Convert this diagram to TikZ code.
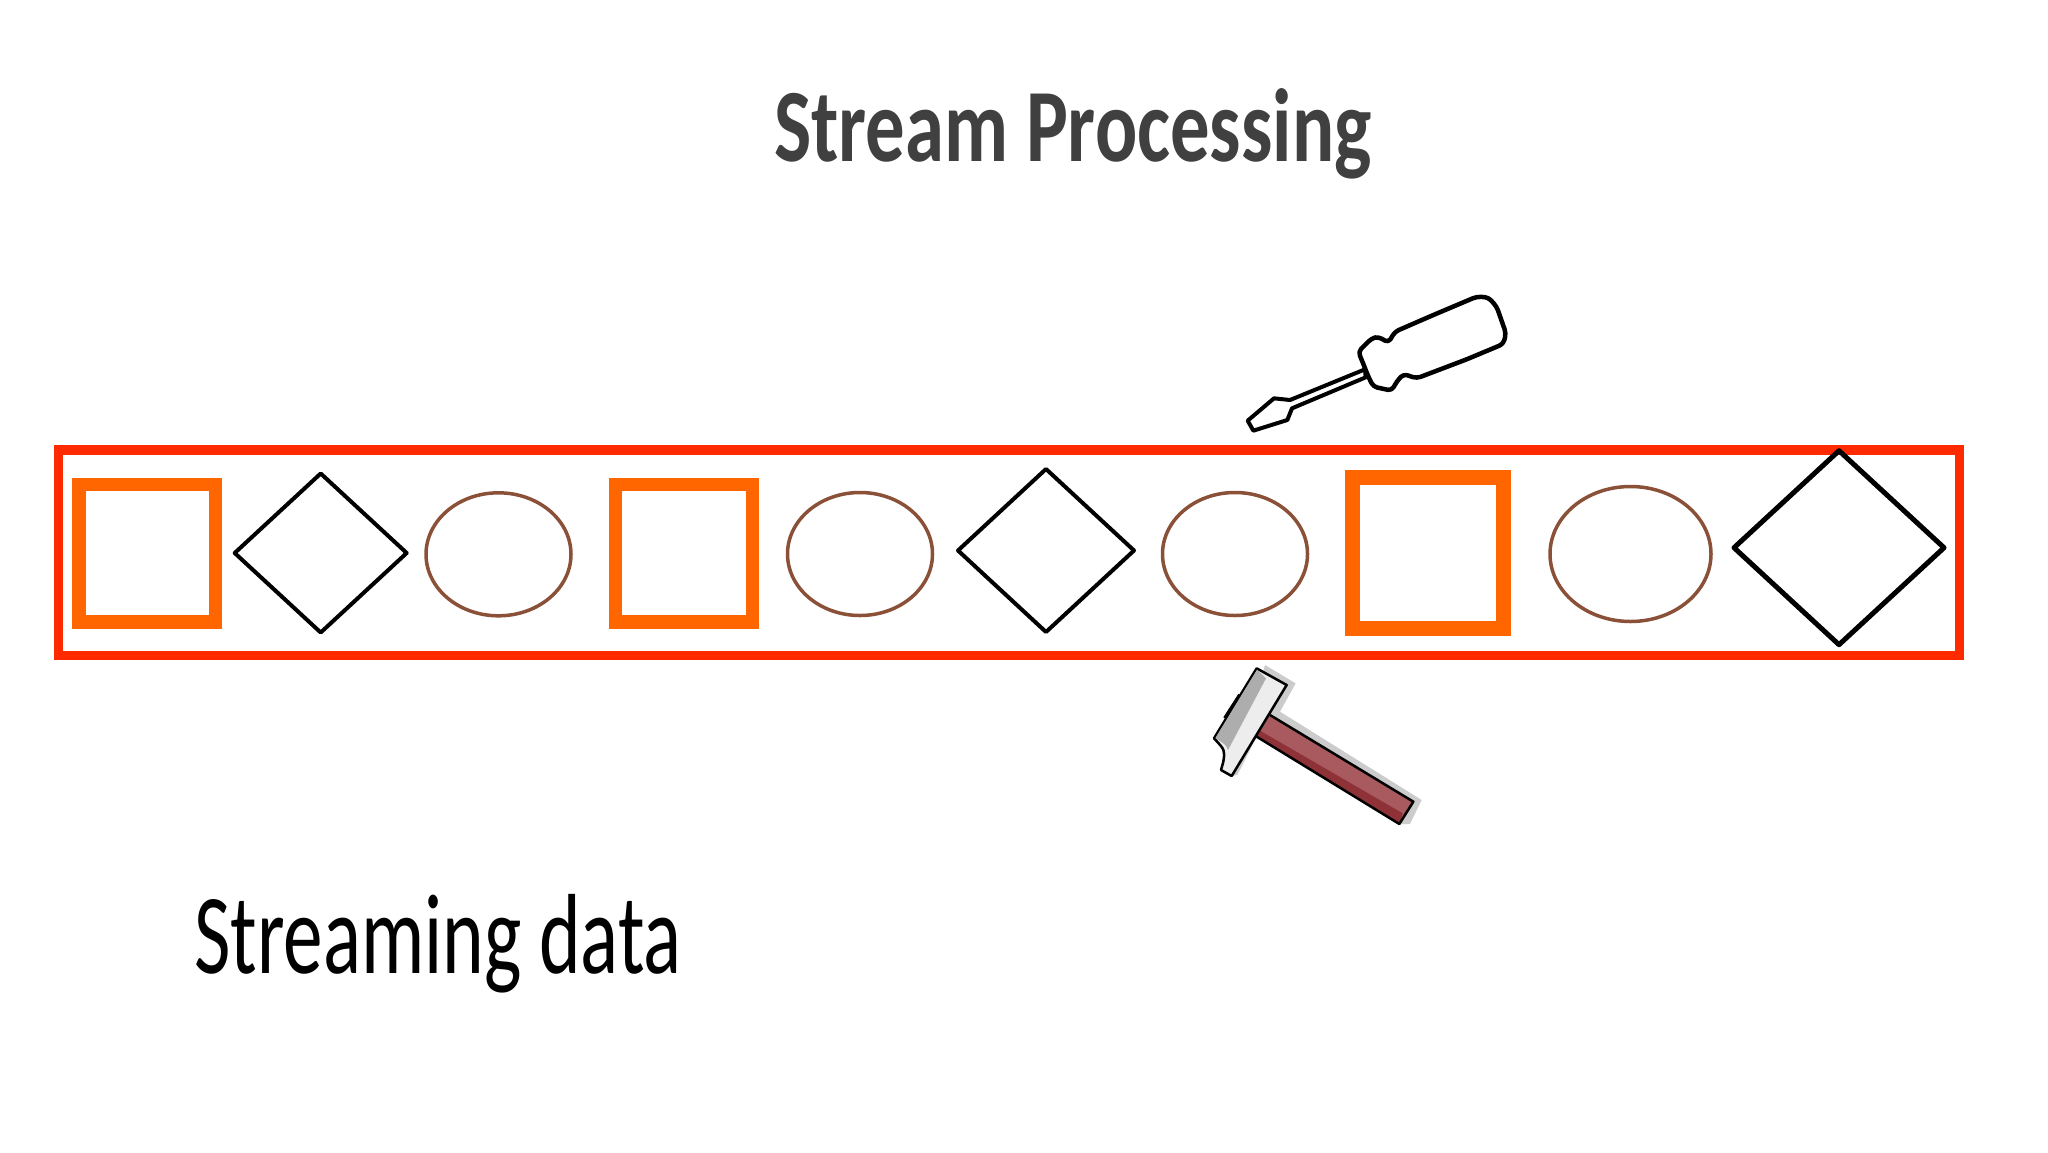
\documentclass[tikz,border=0pt]{standalone}
\usepackage{fontspec}
\usepackage{tikz}
\usetikzlibrary{shapes.geometric}
\newfontfamily\titlefont[FakeStretch=0.757]{Carlito}
\newfontfamily\notefont[FakeStretch=0.695]{Carlito}
\definecolor{framered}{HTML}{FF2A00}
\definecolor{boxorange}{HTML}{FF6600}
\definecolor{blobbrown}{HTML}{8A5038}
\definecolor{titlegray}{HTML}{404040}
\definecolor{haftred}{HTML}{A85A5E}
\definecolor{haftdark}{HTML}{8E3238}
\tikzset{
    boxitem/.style={rectangle, draw=boxorange, inner sep=0pt, outer sep=0pt},
    rhombitem/.style={diamond, draw=black, inner sep=0pt, outer sep=0pt, line join=round},
    blobitem/.style={ellipse, draw=blobbrown, line width=3.5pt, inner sep=0pt, outer sep=0pt},
}

\begin{document}
\begin{tikzpicture}[x=1pt, y=-1pt]
    \useasboundingbox (0, 0) rectangle (2048, 1152);

    \node[anchor=base, text=titlegray, font=\titlefont\bfseries\fontsize{104}{110}\selectfont] (title) at (1073, 161) {Stream Processing};
    \node[anchor=base, font=\notefont\fontsize{114}{120}\selectfont] (note) at (438, 973) {Streaming data};

    \node[rectangle, draw=framered, line width=9.5pt, minimum width=1901pt, minimum height=205.5pt, inner sep=0pt] (stream) at (1009, 552.8) {};

    \node[boxitem, line width=13.5pt, minimum width=136.5pt, minimum height=137.5pt] (boxa) at (147, 553.3) {};
    \node[rhombitem, line width=4pt, minimum width=172pt, minimum height=159pt] (rhomba) at (320.7, 553) {};
    \node[blobitem, minimum width=145pt, minimum height=123pt] (bloba) at (498.5, 554.3) {};
    \node[boxitem, line width=13.5pt, minimum width=137pt, minimum height=137.5pt] (boxb) at (684, 553.3) {};
    \node[blobitem, minimum width=145pt, minimum height=123pt] (blobb) at (860, 554) {};
    \node[rhombitem, line width=4pt, minimum width=176pt, minimum height=163pt] (rhombb) at (1046, 550.5) {};
    \node[blobitem, minimum width=145pt, minimum height=123pt] (blobc) at (1235, 554) {};
    \node[boxitem, line width=15pt, minimum width=151pt, minimum height=151pt] (boxc) at (1428, 553) {};
    \node[blobitem, minimum width=161pt, minimum height=135pt] (blobd) at (1630.5, 554) {};
    \node[rhombitem, line width=5pt, minimum width=210pt, minimum height=194pt] (rhombc) at (1839, 547.7) {};

    \begin{scope}[shift={(1200, 270)}, scale=1/3]
        \draw[line width=4pt, fill=white, line join=round] (495, 298) -- (270, 390) -- (222, 385) -- (143, 452) -- (160, 482) -- (262, 450) -- (276, 415) -- (497, 322) -- cycle;
        \draw[line width=4.5pt, fill=white, rounded corners=4pt, line join=round] (490, 282) -- (475, 245) -- (515, 205) -- (535, 200) -- (565, 218) -- (585, 185) -- (700, 135) -- (830, 80) -- (865, 82) -- (890, 110) -- (918, 190) -- (910, 222) -- (800, 268) -- (650, 325) -- (610, 312) -- (590, 335) -- (575, 362) -- (520, 350) -- (505, 320) -- cycle;
    \end{scope}

    \begin{scope}[shift={(1200, 650)}, scale=1/3]
        \fill[black!20] (195, 45) -- (287, 100) -- (240, 185) -- (665, 450) -- (630, 522) -- (600, 522) -- (170, 260) -- (112, 375) -- (95, 378) -- cycle;
        \fill[haftred] (210, 195) -- (640, 455) -- (598, 522) -- (170, 260) -- cycle;
        \fill[haftdark] (180, 242) -- (608, 490) -- (598, 522) -- (170, 260) -- cycle;
        \draw[line width=2.5pt, line join=round] (210, 195) -- (640, 455) -- (598, 522) -- (170, 260);
        \draw[line width=4pt] (120, 135) -- (75, 205);
        \draw[line width=2.5pt, fill=black!7, line join=round] (170, 55) -- (260, 105) -- (95, 378) -- (63, 360) -- (70, 335) .. controls (75, 300) .. (42, 265) -- cycle;
        \fill[black!32] (171, 59) -- (198, 85) -- (84, 300) .. controls (78, 285) .. (46, 264) -- cycle;
    \end{scope}
\end{tikzpicture}
\end{document}
